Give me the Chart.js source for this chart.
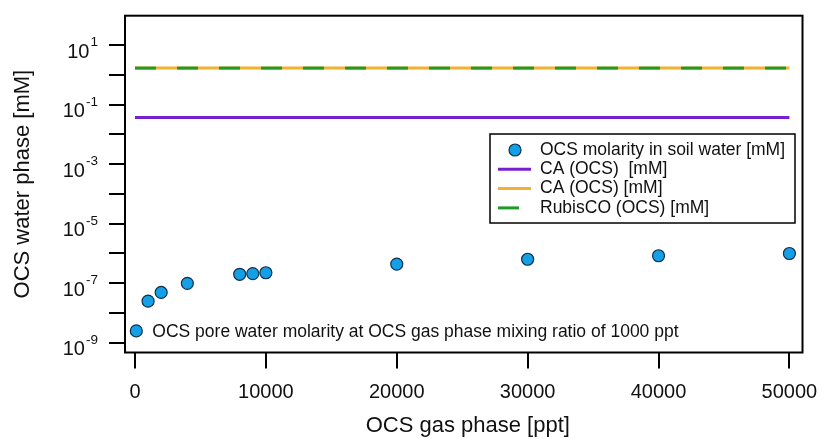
<!DOCTYPE html>
<html>
<head>
<meta charset="utf-8">
<script src="https://cdn.jsdelivr.net/npm/chart.js@4.4.1/dist/chart.umd.min.js"></script>
<style>
  html, body { margin: 0; padding: 0; background: #ffffff; }
  #chart { display: block; }
</style>
</head>
<body>
<canvas id="chart" width="822" height="439"></canvas>
<script>
// OCS in the gas phase (ppt) and the matching molarity in soil water (mM)
const gasPhasePpt = [1000, 2000, 4000, 8000, 9000, 10000, 20000, 30000, 40000, 50000];
const soilWaterMM = [2.5e-8, 4.9e-8, 9.9e-8, 2.0e-7, 2.1e-7, 2.25e-7, 4.4e-7, 6.4e-7, 8.4e-7, 1.0e-6];

// enzyme reference levels, drawn as horizontal lines across the gas-phase range
const referenceSpanPpt = [0, 50000];
const caPurpleMM = 0.037;
const caOrangeMM = 1.7;
const rubiscoMM = 1.7;

// pore-water point described by the note inside the plot
const poreWaterPpt = [100];
const poreWaterMM = [2.5e-9];
const poreWaterNote = 'OCS pore water molarity at OCS gas phase mixing ratio of 1000 ppt';

// axis ticks
const xTickValues = [0, 10000, 20000, 30000, 40000, 50000];
const yTickPowers = [-9, -8, -7, -6, -5, -4, -3, -2, -1, 0, 1];
const yLabelPowers = [-9, -7, -5, -3, -1, 1];

const xTitle = 'OCS gas phase [ppt]';
const yTitle = 'OCS water phase [mM]';

const FONT = '"Liberation Sans", Arial, Helvetica, sans-serif';
const MARKER_FILL = '#14a0e6';
const MARKER_EDGE = '#0f2f4f';

function toPoints(xs, ys) {
  return xs.map((v, i) => ({ x: v, y: ys[i] }));
}
function flatLine(level) {
  return referenceSpanPpt.map(v => ({ x: v, y: level }));
}

const datasets = [
  {
    label: 'OCS molarity in soil water [mM]',
    data: toPoints(gasPhasePpt, soilWaterMM),
    showLine: false,
    pointRadius: 6,
    pointBackgroundColor: MARKER_FILL,
    pointBorderColor: MARKER_EDGE,
    pointBorderWidth: 1.2,
    order: 0,
    inLegend: true
  },
  {
    label: 'CA (OCS)  [mM]',
    data: flatLine(caPurpleMM),
    showLine: true,
    pointRadius: 0,
    borderColor: '#7a1fcc',
    borderWidth: 3,
    order: 4,
    inLegend: true
  },
  {
    label: 'CA (OCS) [mM]',
    data: flatLine(caOrangeMM),
    showLine: true,
    pointRadius: 0,
    borderColor: '#f4b030',
    borderWidth: 3,
    order: 3,
    inLegend: true
  },
  {
    label: 'RubisCO (OCS) [mM]',
    data: flatLine(rubiscoMM),
    showLine: true,
    pointRadius: 0,
    borderColor: '#1f9a26',
    borderWidth: 3,
    borderDash: [21, 21],
    borderCapStyle: 'butt',
    order: 2,
    inLegend: true
  },
  {
    label: poreWaterNote,
    data: toPoints(poreWaterPpt, poreWaterMM),
    showLine: false,
    pointRadius: 6,
    pointBackgroundColor: MARKER_FILL,
    pointBorderColor: MARKER_EDGE,
    pointBorderWidth: 1.2,
    order: 1,
    inLegend: false
  }
];

function drawMarker(ctx, cx, cy) {
  ctx.beginPath();
  ctx.arc(cx, cy, 6, 0, Math.PI * 2);
  ctx.fillStyle = MARKER_FILL;
  ctx.fill();
  ctx.lineWidth = 1.2;
  ctx.strokeStyle = MARKER_EDGE;
  ctx.stroke();
}

// frame, outward ticks, power-of-ten labels, titles, legend box and the note
const axesAndLegend = {
  id: 'axesAndLegend',
  afterDraw(chart) {
    const { ctx, chartArea: a, scales } = chart;
    const xs = scales.x, ys = scales.y;
    ctx.save();

    // frame
    ctx.strokeStyle = '#000';
    ctx.lineWidth = 2;
    ctx.strokeRect(a.left, a.top, a.right - a.left, a.bottom - a.top);

    // y ticks
    ctx.lineWidth = 2;
    yTickPowers.forEach(p => {
      const py = Math.round(ys.getPixelForValue(Math.pow(10, p)));
      ctx.beginPath();
      ctx.moveTo(a.left - 16, py);
      ctx.lineTo(a.left, py);
      ctx.stroke();
    });

    // y labels: 10 with a superscript exponent
    ctx.fillStyle = '#111';
    ctx.textBaseline = 'alphabetic';
    yLabelPowers.forEach(p => {
      const py = ys.getPixelForValue(Math.pow(10, p));
      const exp = String(p);
      ctx.font = '13.5px ' + FONT;
      const ew = ctx.measureText(exp).width;
      const right = a.left - 27;
      ctx.textAlign = 'right';
      ctx.fillText(exp, right, py + 1);
      ctx.font = '20px ' + FONT;
      ctx.fillText('10', right - ew - 1, py + 12.5);
    });

    // x ticks, below the frame
    xTickValues.forEach(v => {
      const px = Math.round(xs.getPixelForValue(v));
      ctx.beginPath();
      ctx.moveTo(px, a.bottom);
      ctx.lineTo(px, a.bottom + 16);
      ctx.stroke();
    });
    ctx.font = '20px ' + FONT;
    ctx.textAlign = 'center';
    ctx.textBaseline = 'middle';
    xTickValues.forEach(v => {
      ctx.fillText(String(v), xs.getPixelForValue(v), a.bottom + 40);
    });

    // axis titles
    ctx.font = '22px ' + FONT;
    ctx.fillText(xTitle, (a.left + a.right) / 2 + 4, a.bottom + 73);
    ctx.save();
    ctx.translate(23, (a.top + a.bottom) / 2);
    ctx.rotate(-Math.PI / 2);
    ctx.fillText(yTitle, 0, 0);
    ctx.restore();

    // legend box
    const lx = 490, ly = 134, lw = 305, lh = 89;
    ctx.fillStyle = '#fff';
    ctx.fillRect(lx, ly, lw, lh);
    ctx.strokeStyle = '#000';
    ctx.lineWidth = 1.5;
    ctx.strokeRect(lx, ly, lw, lh);
    const entries = chart.data.datasets.filter(d => d.inLegend);
    ctx.font = '17.5px ' + FONT;
    ctx.textAlign = 'left';
    ctx.textBaseline = 'middle';
    entries.forEach((d, i) => {
      const cy = ly + 16 + i * 19.3;
      if (d.showLine) {
        ctx.save();
        ctx.strokeStyle = d.borderColor;
        ctx.lineWidth = 3;
        ctx.lineCap = 'butt';
        ctx.setLineDash(d.borderDash || []);
        ctx.beginPath();
        ctx.moveTo(lx + 8, cy);
        ctx.lineTo(lx + 41, cy);
        ctx.stroke();
        ctx.restore();
      } else {
        drawMarker(ctx, lx + 25, cy);
      }
      ctx.fillStyle = '#111';
      ctx.fillText(d.label, lx + 50, cy);
    });

    // note next to the pore-water point
    const note = chart.data.datasets.find(d => !d.inLegend);
    const pt = note.data[0];
    const nx = xs.getPixelForValue(pt.x);
    const ny = ys.getPixelForValue(pt.y);
    ctx.font = '17.5px ' + FONT;
    ctx.fillStyle = '#111';
    ctx.textAlign = 'left';
    ctx.fillText(note.label, nx + 16, ny + 1);

    ctx.restore();
  }
};

new Chart(document.getElementById('chart').getContext('2d'), {
  type: 'scatter',
  data: { datasets },
  options: {
    responsive: false,
    animation: false,
    layout: { padding: { left: 125, right: 19.5, top: 15.7, bottom: 86.5 } },
    scales: {
      x: { type: 'linear', display: false, min: -764, max: 51000 },
      y: { type: 'logarithmic', display: false, min: 4.7e-10, max: 98 }
    },
    plugins: {
      legend: { display: false },
      tooltip: { enabled: false }
    }
  },
  plugins: [axesAndLegend]
});
</script>
</body>
</html>
